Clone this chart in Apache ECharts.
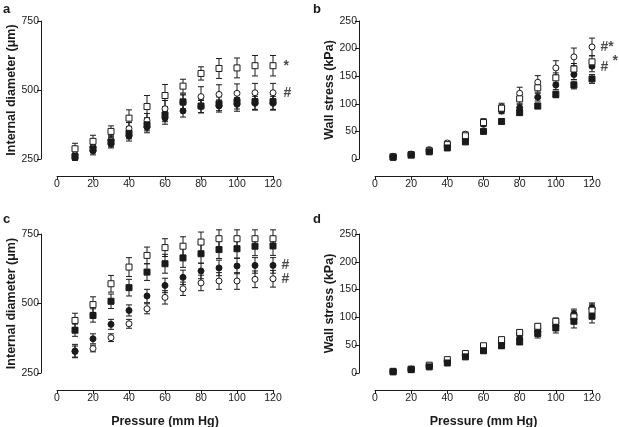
<!DOCTYPE html>
<html><head><meta charset="utf-8">
<script src="https://cdn.jsdelivr.net/npm/echarts@6/dist/echarts.min.js"></script>
<style>html,body{margin:0;padding:0;background:#fff}#c{width:619px;height:427px}</style>
</head><body><div id="c"></div>
<script>
// ---- data ----
const pressure = [10,20,30,40,50,60,70,80,90,100,110,120];

// panel a: internal diameter (µm)
const aOpenSq = [287,314,350,398,440,480,514,560,578,580,588,588];
const aOpenSqErr = [20,22,20,30,40,40,25,24,36,36,37,37];
const aOpenCi = [265,292,318,360,390,432,455,476,484,488,490,490];
const aOpenCiErr = [15,18,18,22,25,30,30,36,35,34,34,34];
const aFillSq = [259,287,312,343,374,410,457,442,450,458,458,458];
const aFillSqErr = [12,15,18,20,22,25,25,25,25,27,28,28];
const aFillCi = [255,280,305,333,365,398,424,440,442,448,452,452];
const aFillCiErr = [10,15,15,18,20,22,22,22,22,25,25,25];

// panel b: wall stress (kPa)
const bOpenCi = [5,9,17,29,45,68,94,119,139,165,185,203];
const bOpenCiErr = [1,1,2,3,4,5,7,11,12,13,16,16];
const bOpenSq = [4,8,15,26,42,66,92,109,129,147,163,176];
const bOpenSqErr = [1,1,2,3,4,5,6,8,8,9,10,11];
const bFillCi = [4,8,14,24,37,63,87,93,112,134,153,168];
const bFillCiErr = [1,1,2,2,3,4,5,6,7,8,9,10];
const bFillSq = [3,7,13,20,31,50,68,84,96,117,134,145];
const bFillSqErr = [1,1,2,2,3,3,4,5,5,6,7,8];

// panel c: internal diameter (µm)
const cOpenSq = [439,496,571,631,673,701,706,721,733,733,733,733];
const cOpenSqErr = [26,28,30,34,30,32,34,36,32,32,32,32];
const cFillSq = [404,457,508,557,613,643,664,679,694,697,706,707];
const cFillSqErr = [22,24,26,30,30,34,34,34,32,34,34,34];
const cFillCi = [329,373,425,475,527,565,594,617,628,635,637,637];
const cFillCiErr = [24,18,18,20,24,26,26,28,28,28,28,28];
const cOpenCi = [327,338,377,427,481,522,553,574,581,581,587,589];
const cOpenCiErr = [20,12,14,16,18,24,24,28,30,30,30,30];

// panel d: wall stress (kPa)
const dOpenSq = [3,7,14,24,35,49,60,73,84,93,101,113];
const dOpenSqErr = [1,1,2,2,3,3,4,4,5,6,8,9];
const dFillSq = [2,6,11,18,29,40,49,56,71,81,93,102];
const dFillSqErr = [1,1,2,2,3,4,5,5,8,9,12,12];
const dOpenCi = [3,7,13,22,33,46,57,68,80,90,104,116];
const dOpenCiErr = [1,1,2,2,3,4,4,5,6,7,8,8];
const dFillCi = [3,6,12,20,31,43,53,62,75,85,106,117];
const dFillCiErr = [1,1,2,2,3,4,5,6,7,8,9,9];

// significance marks [pressure, value, text]
const aMarks = [[120,588,'*'],[120,490,'#']];
const bMarks = [[120,203,'#*'],[120,167,'#']];
const bSupMarks = [[120,178,'*']];
const cMarks = [[120,637,'#'],[120,589,'#']];

const panelLetters = ['a','b','c','d'];
const diamTicks = {min:250,max:750,interval:250};
const stressTicks = {min:0,max:250,interval:50};
const xTicks = {min:0,max:120,interval:20};

// ---- chart ----
const chart = echarts.init(document.getElementById('c'));
const FONT = '"Liberation Sans", Arial, Helvetica, sans-serif';
const INK = '#1a1a1a';

const grids = [
  {left:57, top:21, width:216, height:138},
  {left:375, top:21, width:217, height:138},
  {left:57, top:234, width:216, height:139},
  {left:375, top:234, width:217, height:139}
].map(g => Object.assign({containLabel:false, outerBoundsMode:'none'}, g));

function xAx(i, named){
  return {type:'value', gridIndex:i, min:xTicks.min, max:xTicks.max, interval:xTicks.interval,
    position:'bottom', offset:17,
    axisLine:{show:true, onZero:false, lineStyle:{color:INK, width:1}},
    axisTick:{show:true, length:4, lineStyle:{color:INK}},
    axisLabel:{color:INK, fontFamily:FONT, fontSize:10.5, margin:3},
    splitLine:{show:false},
    name: named ? 'Pressure (mm Hg)' : '', nameLocation:'middle', nameGap:25,
    nameTextStyle:{color:INK, fontFamily:FONT, fontSize:12.5, fontWeight:'bold'}};
}
function yAx(i, ticks, name){
  return {type:'value', gridIndex:i, min:ticks.min, max:ticks.max, interval:ticks.interval,
    position:'left', offset:16,
    axisLine:{show:true, onZero:false, lineStyle:{color:INK, width:1}},
    axisTick:{show:true, length:4, lineStyle:{color:INK}},
    axisLabel:{color:INK, fontFamily:FONT, fontSize:10.5, margin:2},
    splitLine:{show:false},
    name:name, nameLocation:'middle', nameGap:21,
    nameTextStyle:{color:INK, fontFamily:FONT, fontSize:12.5, fontWeight:'bold'}};
}

function errSeries(i, ys, es){
  return {type:'custom', xAxisIndex:i, yAxisIndex:i, z:1, silent:true, clip:false,
    data: pressure.map((p,k)=>[p, ys[k], es[k]]),
    renderItem:(params, api)=>{
      const x=api.value(0), y=api.value(1), e=api.value(2);
      const t=api.coord([x,y+e]), b=api.coord([x,y-e]);
      const w=3, st={stroke:INK, lineWidth:1};
      return {type:'group', children:[
        {type:'line', shape:{x1:t[0],y1:t[1],x2:b[0],y2:b[1]}, style:st},
        {type:'line', shape:{x1:t[0]-w,y1:t[1],x2:t[0]+w,y2:t[1]}, style:st},
        {type:'line', shape:{x1:b[0]-w,y1:b[1],x2:b[0]+w,y2:b[1]}, style:st}
      ]};
    }};
}
function pts(i, ys, symbol, filled){
  return {type:'scatter', xAxisIndex:i, yAxisIndex:i, z:3, silent:true,
    symbol:symbol, symbolSize:6,
    itemStyle:{color: filled ? INK : '#fff', borderColor:INK, borderWidth:1, opacity:1},
    data: pressure.map((p,k)=>[p, ys[k]])};
}
function marks(i, arr, dist, dy){
  return {type:'scatter', xAxisIndex:i, yAxisIndex:i, z:4, silent:true, symbolSize:1,
    itemStyle:{color:'rgba(0,0,0,0)'},
    label:{show:true, position:'right', distance:dist, offset:[0,dy||0],
      formatter:p=>p.data[2], color:INK, fontFamily:FONT, fontSize:14, fontWeight:'bold'},
    data: arr};
}

function panel(i, oc, ocE, fc, fcE, os, osE, fs, fsE){
  return [
    errSeries(i, oc, ocE), errSeries(i, fc, fcE), errSeries(i, os, osE), errSeries(i, fs, fsE),
    pts(i, oc, 'circle', false), pts(i, fc, 'circle', true),
    pts(i, os, 'rect', false), pts(i, fs, 'rect', true)
  ];
}

const series = [].concat(
  panel(0, aOpenCi, aOpenCiErr, aFillCi, aFillCiErr, aOpenSq, aOpenSqErr, aFillSq, aFillSqErr),
  panel(1, bOpenCi, bOpenCiErr, bFillCi, bFillCiErr, bOpenSq, bOpenSqErr, bFillSq, bFillSqErr),
  panel(2, cOpenCi, cOpenCiErr, cFillCi, cFillCiErr, cOpenSq, cOpenSqErr, cFillSq, cFillSqErr),
  panel(3, dOpenCi, dOpenCiErr, dFillCi, dFillCiErr, dOpenSq, dOpenSqErr, dFillSq, dFillSqErr),
  [marks(0, aMarks, 10), marks(1, bMarks, 8), marks(1, bSupMarks, 20), marks(2, cMarks, 8)]
);

const letterPos = [[3,3],[313,3],[3,213],[313,213]];
const graphic = panelLetters.map((t,k)=>({type:'text', left:letterPos[k][0], top:letterPos[k][1],
  style:{text:t, fill:INK, font:'bold 13px ' + FONT}}));

chart.setOption({
  animation:false,
  backgroundColor:'#fff',
  grid: grids,
  xAxis:[xAx(0,false), xAx(1,false), xAx(2,true), xAx(3,true)],
  yAxis:[yAx(0,diamTicks,'Internal diameter (\u03bcm)'), yAx(1,stressTicks,'Wall stress (kPa)'),
         yAx(2,diamTicks,'Internal diameter (\u03bcm)'), yAx(3,stressTicks,'Wall stress (kPa)')],
  graphic: graphic,
  series: series
});
</script>
</body></html>
